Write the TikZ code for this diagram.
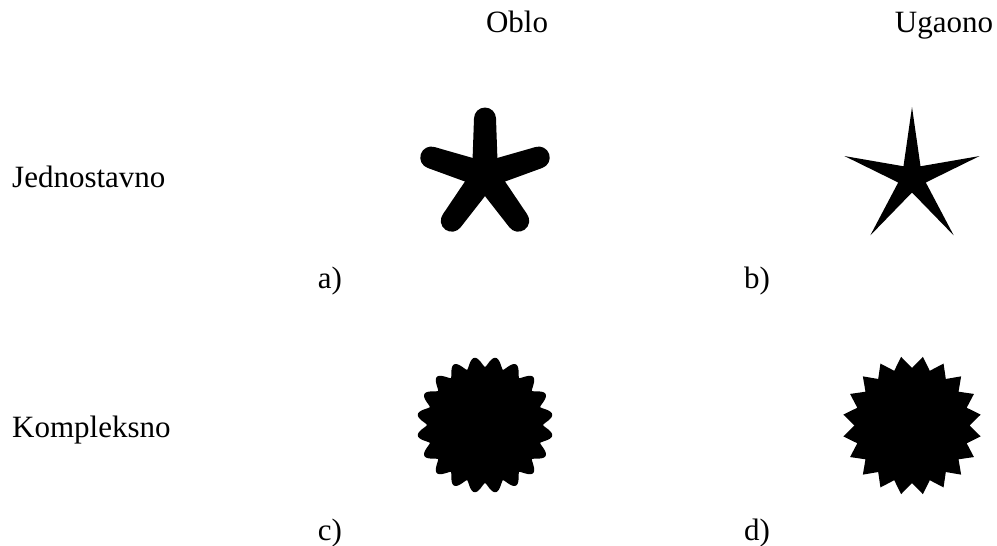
\documentclass[tikz,border=0pt]{standalone}
\usepackage{fontspec}
\setmainfont{Liberation Serif}
\begin{document}
\begin{tikzpicture}[x=1pt,y=1pt,
  lbl/.style={inner sep=0pt,font=\fontsize{31}{36}\selectfont},
  shapefill/.style={fill=black}]
\useasboundingbox (0,0) rectangle (997,-546);
% labels
\node[lbl,anchor=base] (oblo) at (517,-32) {Oblo};
\node[lbl,anchor=base] (ugaono) at (944,-32) {Ugaono};
\node[lbl,anchor=base west] (jedn) at (12,-187) {Jednostavno};
\node[lbl,anchor=base west] (kompl) at (12,-437) {Kompleksno};
\node[lbl,anchor=base] (la) at (330,-288) {a)};
\node[lbl,anchor=base] (lb) at (757,-288) {b)};
\node[lbl,anchor=base] (lc) at (330,-540) {c)};
\node[lbl,anchor=base] (ld) at (757,-540) {d)};
% a) rounded five-armed star
\foreach \k in {0,...,4}{
  \begin{scope}[shift={(485,-175)},rotate={90+72*\k}]
    \fill[shapefill] (0,-13) -- (56.5,-11) arc[start angle=-90,end angle=90,radius=11pt] -- (0,13) -- cycle;
  \end{scope}
}
\fill[shapefill] (485,-175) circle[radius=19pt];
% b) pointed five-armed star
\fill[shapefill,shift={(912,-178)}] (90:71)
  \foreach \k in {0,...,4}{ -- ({90+72*\k+36}:14.5) -- ({90+72*(\k+1)}:71) } -- cycle;
% c) wavy disc
\fill[shapefill,shift={(485,-425)}] plot[domain=0:360,samples=721,variable=\t]
  (\t:{58+10*((1+cos(20*(\t-9)))/2+0.0001)^0.7}) -- cycle;
% d) twenty-spike star
\fill[shapefill,shift={(912,-425.5)}] (0:57.5)
  \foreach \k in {0,...,19}{ -- ({18*\k+9}:69.5) -- ({18*\k+18}:57.5) } -- cycle;
\end{tikzpicture}
\end{document}
